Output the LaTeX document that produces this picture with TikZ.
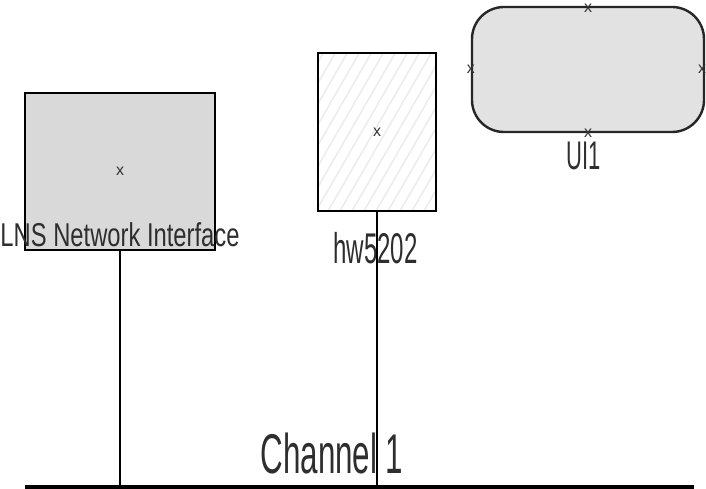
\documentclass[tikz,border=0pt]{standalone}
\usepackage{fontspec}
\setmainfont{Liberation Sans}
\usetikzlibrary{calc}
\definecolor{txt}{HTML}{2E2E2E}
\definecolor{boxgray}{HTML}{D9D9D9}
\definecolor{uigray}{HTML}{E2E2E2}
\definecolor{hatchc}{HTML}{EDEDED}
\newcommand{\lbltxt}[3]{\scalebox{#2}[1]{\fontsize{#1}{#1}\selectfont #3}}
\tikzset{
  boxline/.style={draw=black, line width=2.6pt},
  lnibox/.style={boxline, fill=boxgray, minimum width=190pt, minimum height=157pt, inner sep=0pt},
  hwbox/.style={boxline, fill=white, minimum width=118pt, minimum height=158pt, inner sep=0pt,
    path picture={
      \foreach \i in {-110,-98,...,130}
        \draw[hatchc, line width=1.6pt] ([xshift=\i pt]path picture bounding box.south west) -- ++(100,-173);
    }},
  uibox/.style={draw=black!85, line width=2.4pt, fill=uigray, rounded corners=32pt,
    minimum width=232pt, minimum height=125pt, inner sep=0pt},
  lbl/.style={text=txt, inner sep=0pt, anchor=base},
  xmark/.style={text=black!80, inner sep=0pt, font=\fontsize{16}{16}\selectfont},
  wire/.style={draw=black, line width=1.5pt},
  bus/.style={draw=black, line width=3.2pt},
}
\begin{document}
\begin{tikzpicture}[x=1pt, y=-1pt]
\useasboundingbox (0,0) rectangle (706,489);
% nodes
\node[lnibox] (lni) at (120,171.5) {};
\node[hwbox] (hw) at (377,132) {};
\node[uibox] (ui) at (588,69.5) {};
% markers
\node[xmark] (lnix) at (lni.center) {x};
\node[xmark] (hwx) at (hw.center) {x};
\node[xmark] (uin) at ($(ui.north)+(0,2)$) {x};
\node[xmark] (uis) at (ui.south) {x};
\node[xmark] (uiw) at (ui.west) {x};
\node[xmark] (uie) at ($(ui.east)+(-3,0)$) {x};
% bus
\coordinate (busL) at (25,487);
\coordinate (busR) at (694,487);
\draw[bus] (busL) -- (busR);
\draw[wire] (lni.south) -- (lni.south |- busL);
% labels
\node[lbl] (lnil) at (120,246) {\lbltxt{33}{0.72}{LNS Network Interface}};
\node[lbl] (hwl) at (375.5,263) {\lbltxt{43}{0.56}{hw5202}};
\node[lbl] (uil) at (584,170) {\lbltxt{40}{0.55}{UI1}};
\node[lbl] (chan) at (332,473) {\lbltxt{56}{0.56}{Channel 1}};
% the hw5202 wire runs over its label, as in the reference
\draw[wire] (hw.south) -- (hw.south |- busL);
\end{tikzpicture}
\end{document}
